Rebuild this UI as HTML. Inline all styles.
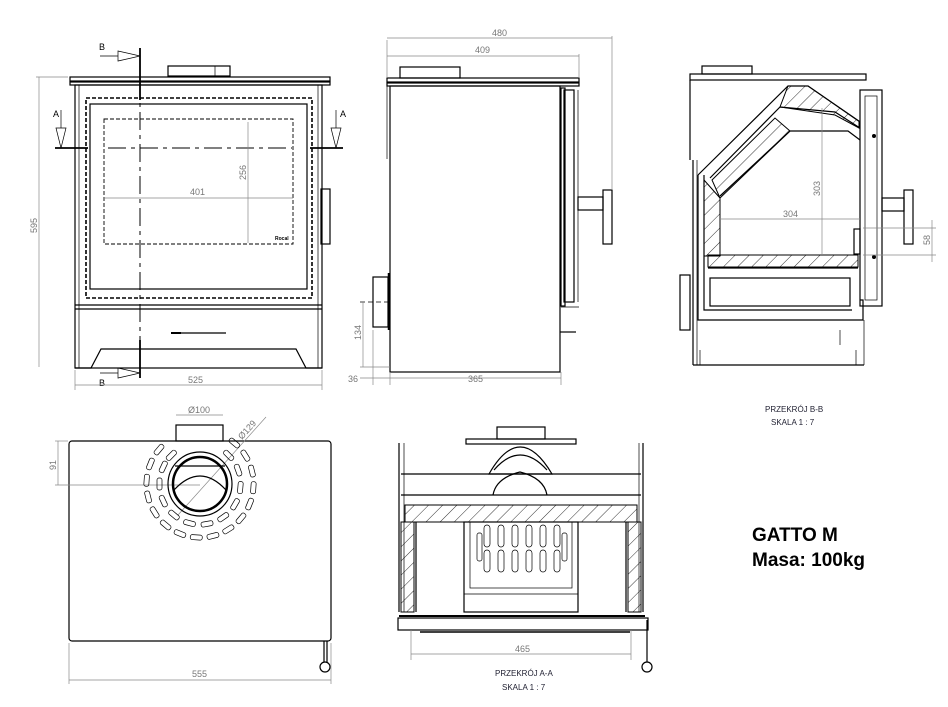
<!DOCTYPE html>
<html><head><meta charset="utf-8"><style>
html,body{margin:0;padding:0;background:#fff}
svg{display:block}
text{font-family:"Liberation Sans",sans-serif}
.l{fill:none;stroke:#000;stroke-width:1.2}
.t{fill:none;stroke:#000;stroke-width:0.7}
.d{fill:none;stroke:#888;stroke-width:0.7}
.dm{fill:#777;font-size:9px}
.s{fill:#fff;stroke:#000;stroke-width:1}
</style></head><body>
<svg width="948" height="707" viewBox="0 0 948 707" xmlns="http://www.w3.org/2000/svg">
<defs>
<pattern id="h" width="10" height="10" patternUnits="userSpaceOnUse" patternTransform="rotate(45)"><line x1="0" y1="0" x2="0" y2="10" stroke="#000" stroke-width="0.8"/></pattern>
</defs>

<!-- FRONT VIEW -->
<rect class="l" x="168" y="66" width="62" height="10"/><line class="t" x1="215" y1="66" x2="215" y2="76"/>
<rect class="l" x="70" y="77" width="260" height="4"/>
<rect class="l" x="70" y="82" width="260" height="3"/>
<rect class="l" x="75" y="85" width="247" height="283"/>
<line class="t" x1="79" y1="85" x2="79" y2="368"/><line class="t" x1="318" y1="85" x2="318" y2="368"/>
<rect fill="none" stroke="#000" stroke-width="1.6" stroke-dasharray="4,2" x="86" y="98" width="226" height="200"/>
<rect class="l" x="90" y="104" width="217" height="185"/>
<rect fill="none" stroke="#000" stroke-width="0.9" stroke-dasharray="4,2" x="104" y="119" width="189" height="125"/>
<line x1="108" y1="148" x2="292" y2="148" stroke="#000" stroke-width="1" stroke-dasharray="18,5,4,5"/>
<line class="d" x1="104" y1="198" x2="293" y2="198"/>
<text class="dm" x="190" y="195">401</text>
<line class="d" x1="248" y1="122" x2="248" y2="243"/>
<text class="dm" transform="translate(246,180) rotate(-90)">256</text>
<text x="275" y="240" font-size="5" font-weight="bold">Rocal</text>
<line class="l" x1="75" y1="305" x2="322" y2="305"/><line class="l" x1="75" y1="309" x2="322" y2="309"/>
<rect fill="#000" x="171" y="332" width="10" height="2"/><line class="l" x1="181" y1="333" x2="226" y2="333"/>
<path class="l" d="M75 368 L91 368 L101 349 L296 349 L306 368 L322 368"/>
<rect class="l" x="321" y="189" width="9" height="55"/>
<!-- section lines -->
<line x1="140" y1="48" x2="140" y2="378" stroke="#000" stroke-width="1" stroke-dasharray="18,5,4,5"/>
<line x1="140" y1="48" x2="140" y2="100" stroke="#000" stroke-width="1.8"/>
<line x1="140" y1="340" x2="140" y2="378" stroke="#000" stroke-width="1.8"/>
<line class="t" x1="100" y1="56" x2="118" y2="56"/><path class="t" d="M118 51 L140 56 L118 61Z"/><text x="99" y="50" font-size="9">B</text>
<line class="t" x1="100" y1="373" x2="118" y2="373"/><path class="t" d="M118 368 L140 373 L118 378Z"/><text x="99" y="386" font-size="9">B</text>
<line x1="55" y1="148" x2="88" y2="148" stroke="#000" stroke-width="1.8"/>
<line x1="310" y1="148" x2="343" y2="148" stroke="#000" stroke-width="1.8"/>
<line class="t" x1="61" y1="110" x2="61" y2="128"/><path class="t" d="M56 128 L61 148 L66 128Z"/><text x="53" y="117" font-size="9">A</text>
<line class="t" x1="336" y1="110" x2="336" y2="128"/><path class="t" d="M331 128 L336 148 L341 128Z"/><text x="340" y="117" font-size="9">A</text>
<line class="d" x1="36" y1="77" x2="68" y2="77"/><line class="d" x1="39" y1="77" x2="39" y2="367"/>
<text class="dm" transform="translate(37,233) rotate(-90)" fill="#a55">595</text>
<line class="d" x1="75" y1="370" x2="75" y2="390"/><line class="d" x1="322" y1="370" x2="322" y2="390"/>
<line class="d" x1="75" y1="385" x2="322" y2="385"/><text class="dm" x="188" y="383">525</text>

<!-- SIDE VIEW -->
<rect class="l" x="400" y="67" width="60" height="11"/>
<rect class="l" x="387" y="78" width="192" height="4"/><rect class="l" x="387" y="83" width="192" height="3"/>
<rect class="l" x="390" y="86" width="170" height="286"/>
<line class="t" x1="387" y1="86" x2="387" y2="159"/>
<rect class="l" x="561" y="88" width="4" height="218"/>
<rect class="l" x="564" y="90" width="10" height="212"/><line class="t" x1="578" y1="90" x2="578" y2="302"/>
<line class="t" x1="561" y1="307" x2="579" y2="307"/>
<line class="l" x1="560" y1="332" x2="576" y2="332"/>
<rect class="l" x="578" y="197" width="25" height="13"/><rect class="l" x="603" y="190" width="9" height="54"/>
<rect class="l" x="373" y="277" width="15" height="50"/><line x1="389" y1="273" x2="389" y2="330" stroke="#000" stroke-width="2.5"/>
<line class="t" x1="360" y1="302" x2="392" y2="302" stroke-dasharray="5,3"/>
<line class="d" x1="387" y1="40" x2="387" y2="78"/><line class="d" x1="387" y1="38" x2="612" y2="38"/><line class="d" x1="612" y1="36" x2="612" y2="190"/>
<text class="dm" x="492" y="36">480</text>
<line class="d" x1="387" y1="56" x2="579" y2="56"/><line class="d" x1="579" y1="54" x2="579" y2="78"/><text class="dm" x="475" y="53">409</text>
<line class="d" x1="363" y1="302" x2="363" y2="367"/><line class="d" x1="360" y1="367" x2="390" y2="367"/>
<text class="dm" transform="translate(361,340) rotate(-90)">134</text>
<line class="d" x1="373" y1="330" x2="373" y2="385"/><line class="d" x1="390" y1="372" x2="390" y2="385"/><line class="d" x1="561" y1="372" x2="561" y2="385"/>
<line class="d" x1="360" y1="378" x2="561" y2="378"/>
<text class="dm" x="348" y="382">36</text><text class="dm" x="468" y="382">365</text>

<!-- SECTION B-B -->
<rect class="l" x="702" y="66" width="50" height="8"/>
<rect class="l" x="690" y="74" width="176" height="6"/>
<line class="l" x1="690" y1="80" x2="690" y2="160"/>
<line class="l" x1="693" y1="160" x2="693" y2="365"/><line class="t" x1="697" y1="160" x2="697" y2="365"/>
<line class="l" x1="693" y1="365" x2="864" y2="365"/>
<line class="t" x1="864" y1="320" x2="864" y2="365"/>
<path class="l" d="M698 175 L698 320 L863 320 L863 300 L860 300"/>
<path class="l" d="M704 175 L704 310 L852 310"/>
<path class="l" d="M698 175 L788 86 L808 86 L860 122"/>
<path fill="url(#h)" stroke="#000" stroke-width="1" d="M788 86 L808 86 L859 121 L859 128 L835 115 L780 107Z"/>
<path class="l" d="M710 178 L780 107 L835 112 L860 128"/>
<path class="l" d="M720 196 L790 131 L848 131 L860 140"/>
<path fill="url(#h)" stroke="#000" stroke-width="1" d="M712 180 L775 118 L790 131 L720 198Z"/>
<path fill="url(#h)" stroke="#000" stroke-width="1" d="M704 180 L720 198 L720 256 L704 256Z"/>
<rect fill="url(#h)" stroke="#000" stroke-width="1" x="708" y="255" width="150" height="12"/>
<line class="l" x1="708" y1="268" x2="858" y2="268"/>
<rect class="l" x="710" y="278" width="140" height="28"/>
<rect class="l" x="860" y="90" width="22" height="216"/><rect class="t" x="865" y="96" width="12" height="204"/>
<circle cx="874" cy="136" r="2" fill="#000"/><circle cx="874" cy="257" r="2" fill="#000"/>
<rect class="l" x="882" y="198" width="22" height="13"/><rect class="l" x="904" y="190" width="9" height="54"/>
<rect class="l" x="854" y="229" width="6" height="25"/>
<rect class="l" x="680" y="275" width="10" height="55"/>
<line class="d" x1="822" y1="108" x2="822" y2="255"/><text class="dm" transform="translate(820,196) rotate(-90)">303</text>
<line class="d" x1="720" y1="219" x2="860" y2="219"/><text class="dm" x="783" y="217">304</text>
<line class="d" x1="863" y1="228" x2="936" y2="228"/><line class="d" x1="863" y1="255" x2="936" y2="255"/><line class="d" x1="932" y1="220" x2="932" y2="262"/>
<text class="dm" transform="translate(930,245) rotate(-90)">58</text>
<line class="t" x1="700" y1="350" x2="700" y2="365"/><line class="t" x1="856" y1="350" x2="856" y2="365"/>
<line class="t" x1="840" y1="330" x2="840" y2="345"/>
<text x="765" y="412" font-size="8" fill="#223">PRZEKRÓJ B-B</text>
<text x="771" y="425" font-size="8" fill="#223">SKALA 1 : 7</text>

<!-- TOP VIEW -->
<rect class="l" x="176" y="425" width="47" height="16"/>
<rect class="l" x="69" y="441" width="262" height="200" rx="3"/>
<line class="d" x1="176" y1="415" x2="223" y2="415"/><text class="dm" x="188" y="413">Ø100</text>
<line class="d" x1="178" y1="515" x2="266" y2="417"/>
<text class="dm" transform="translate(242,440) rotate(-48)">Ø129</text>
<line class="d" x1="55" y1="441" x2="68" y2="441"/><line class="d" x1="55" y1="485" x2="200" y2="485"/><line class="d" x1="58" y1="441" x2="58" y2="485"/>
<text class="dm" transform="translate(56,470) rotate(-90)">91</text>
<circle class="l" cx="200" cy="484" r="32"/><circle cx="200" cy="484" r="27" fill="none" stroke="#000" stroke-width="2.5"/>
<path class="l" d="M175 466 L225 466"/><path class="l" d="M174 490 Q200 462 226 490"/>
<g class="t">
<rect x="238" y="478" width="5" height="12" rx="2" transform="rotate(-45 200 484)"/>
<rect x="238" y="478" width="5" height="12" rx="2" transform="rotate(-20 200 484)"/>
<rect x="238" y="478" width="5" height="12" rx="2" transform="rotate(5 200 484)"/>
<rect x="238" y="478" width="5" height="12" rx="2" transform="rotate(30 200 484)"/>
<rect x="238" y="478" width="5" height="12" rx="2" transform="rotate(55 200 484)"/>
<rect x="238" y="478" width="5" height="12" rx="2" transform="rotate(80 200 484)"/>
<rect x="238" y="478" width="5" height="12" rx="2" transform="rotate(105 200 484)"/>
<rect x="238" y="478" width="5" height="12" rx="2" transform="rotate(130 200 484)"/>
<rect x="238" y="478" width="5" height="12" rx="2" transform="rotate(155 200 484)"/>
<rect x="238" y="478" width="5" height="12" rx="2" transform="rotate(180 200 484)"/>
<rect x="238" y="478" width="5" height="12" rx="2" transform="rotate(205 200 484)"/>
<rect x="238" y="478" width="5" height="12" rx="2" transform="rotate(225 200 484)"/>
<rect x="251" y="478" width="5" height="12" rx="2" transform="rotate(-50 200 484)"/>
<rect x="251" y="478" width="5" height="12" rx="2" transform="rotate(-32 200 484)"/>
<rect x="251" y="478" width="5" height="12" rx="2" transform="rotate(-14 200 484)"/>
<rect x="251" y="478" width="5" height="12" rx="2" transform="rotate(4 200 484)"/>
<rect x="251" y="478" width="5" height="12" rx="2" transform="rotate(22 200 484)"/>
<rect x="251" y="478" width="5" height="12" rx="2" transform="rotate(40 200 484)"/>
<rect x="251" y="478" width="5" height="12" rx="2" transform="rotate(58 200 484)"/>
<rect x="251" y="478" width="5" height="12" rx="2" transform="rotate(76 200 484)"/>
<rect x="251" y="478" width="5" height="12" rx="2" transform="rotate(94 200 484)"/>
<rect x="251" y="478" width="5" height="12" rx="2" transform="rotate(112 200 484)"/>
<rect x="251" y="478" width="5" height="12" rx="2" transform="rotate(130 200 484)"/>
<rect x="251" y="478" width="5" height="12" rx="2" transform="rotate(148 200 484)"/>
<rect x="251" y="478" width="5" height="12" rx="2" transform="rotate(166 200 484)"/>
<rect x="251" y="478" width="5" height="12" rx="2" transform="rotate(184 200 484)"/>
<rect x="251" y="478" width="5" height="12" rx="2" transform="rotate(202 200 484)"/>
<rect x="251" y="478" width="5" height="12" rx="2" transform="rotate(220 200 484)"/>
</g>
<line class="l" x1="324" y1="641" x2="324" y2="662"/><line class="l" x1="327" y1="641" x2="327" y2="662"/>
<circle class="l" cx="325" cy="667" r="5"/>
<line class="d" x1="69" y1="643" x2="69" y2="684"/><line class="d" x1="331" y1="643" x2="331" y2="684"/>
<line class="d" x1="69" y1="680" x2="331" y2="680"/><text class="dm" x="192" y="677">555</text>

<!-- SECTION A-A -->
<rect class="l" x="497" y="427" width="48" height="12"/>
<rect class="l" x="466" y="439" width="110" height="5"/>
<line class="l" x1="399" y1="443" x2="399" y2="612"/><line class="t" x1="404" y1="443" x2="404" y2="612"/>
<line class="l" x1="643" y1="443" x2="643" y2="612"/><line class="t" x1="639" y1="443" x2="639" y2="612"/>
<line class="l" x1="401" y1="474" x2="641" y2="474"/>
<path class="l" d="M489 474 Q520 420 552 474 Z" fill="#fff"/>
<path class="l" d="M494 470 Q520 440 547 470"/>
<line class="l" x1="401" y1="495" x2="641" y2="495"/>
<path class="l" d="M493 495 Q496 478 520 472 Q544 478 547 495" fill="#fff"/>
<rect fill="url(#h)" stroke="#000" stroke-width="1" x="405" y="505" width="232" height="17"/>
<rect fill="url(#h)" stroke="#000" stroke-width="1" x="401" y="522" width="13" height="90"/>
<rect fill="url(#h)" stroke="#000" stroke-width="1" x="628" y="522" width="13" height="90"/>
<line class="l" x1="416" y1="522" x2="416" y2="612"/><line class="l" x1="626" y1="522" x2="626" y2="612"/>
<rect class="l" x="464" y="522" width="114" height="90"/>
<rect class="t" x="470" y="522" width="102" height="66"/>
<g class="t">
<rect x="484" y="525" width="6" height="22" rx="3"/><rect x="498" y="525" width="6" height="22" rx="3"/><rect x="512" y="525" width="6" height="22" rx="3"/><rect x="526" y="525" width="6" height="22" rx="3"/><rect x="540" y="525" width="6" height="22" rx="3"/><rect x="554" y="525" width="6" height="22" rx="3"/>
<rect x="484" y="550" width="6" height="22" rx="3"/><rect x="498" y="550" width="6" height="22" rx="3"/><rect x="512" y="550" width="6" height="22" rx="3"/><rect x="526" y="550" width="6" height="22" rx="3"/><rect x="540" y="550" width="6" height="22" rx="3"/><rect x="554" y="550" width="6" height="22" rx="3"/>
<rect x="477" y="533" width="5" height="28" rx="2"/><rect x="562" y="533" width="5" height="28" rx="2"/>
</g>
<line class="t" x1="464" y1="594" x2="578" y2="594"/>
<line x1="399" y1="616" x2="645" y2="616" stroke="#000" stroke-width="2"/>
<rect class="l" x="398" y="618" width="250" height="12"/>
<line x1="420" y1="632" x2="630" y2="632" stroke="#000" stroke-width="1.5"/>
<line class="l" x1="647" y1="620" x2="647" y2="662"/><circle class="l" cx="647" cy="667" r="5"/>
<line class="d" x1="411" y1="630" x2="411" y2="660"/><line class="d" x1="631" y1="630" x2="631" y2="660"/>
<line class="d" x1="411" y1="654" x2="631" y2="654"/><text class="dm" x="515" y="652">465</text>
<text x="495" y="676" font-size="8" fill="#223">PRZEKRÓJ A-A</text>
<text x="502" y="690" font-size="8" fill="#223">SKALA 1 : 7</text>

<text x="752" y="541" font-size="19" font-weight="bold">GATTO M</text>
<text x="752" y="566" font-size="19" font-weight="bold">Masa: 100kg</text>
</svg>
</body></html>
